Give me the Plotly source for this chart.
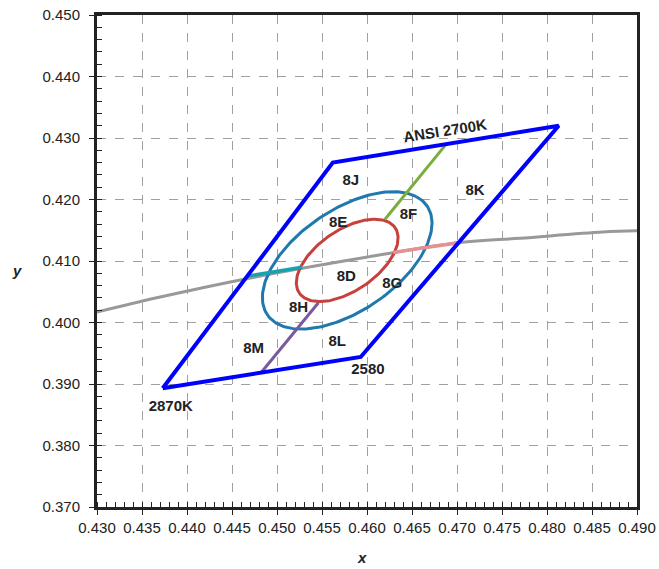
import numpy as np
import plotly.graph_objects as go

# ANSI 2700K quadrangle corners (closed)
quad_x = [0.4373, 0.4562, 0.4813, 0.4593, 0.4373]
quad_y = [0.3893, 0.4260, 0.4320, 0.3944, 0.3893]

# Planckian locus
locus_x = [0.4300, 0.4369, 0.4476, 0.4599, 0.4703, 0.4770, 0.4862, 0.4900]
locus_y = [0.4017, 0.4041, 0.4074, 0.4106, 0.4130, 0.4137, 0.4147, 0.4149]

# MacAdam ellipse parameters: center, semi-axes, angle (deg)
ell_center = (0.4578, 0.4101)
ell_inner = (0.00774, 0.00411)   # 3-step
ell_outer = (0.0129, 0.00685)    # 5-step
ell_angle = 53.7

# Dividing segments
seg_green_x = [0.4620, 0.4688]
seg_green_y = [0.4168, 0.4290]
seg_pink_x = [0.4629, 0.4704]
seg_pink_y = [0.4114, 0.4130]
seg_teal_x = [0.4466, 0.4528]
seg_teal_y = [0.4075, 0.4090]
seg_purple_x = [0.4546, 0.4482]
seg_purple_y = [0.4032, 0.3918]

# Labels
lab_text = ["8J", "8K", "8F", "8E", "8D", "8G", "8H", "8M", "8L", "2580", "2870K"]
lab_x = [0.4582, 0.4720, 0.4646, 0.4568, 0.4577, 0.4628, 0.4524, 0.4474, 0.4567, 0.4601, 0.4382]
lab_y = [0.4229, 0.4213, 0.4175, 0.4161, 0.4074, 0.4063, 0.4023, 0.3957, 0.3968, 0.3923, 0.3863]


def ellipse(center, axes, ang):
    t = np.linspace(0, 2 * np.pi, 200)
    a, b = axes
    th = np.radians(ang)
    ex = center[0] + a * np.cos(t) * np.cos(th) - b * np.sin(t) * np.sin(th)
    ey = center[1] + a * np.cos(t) * np.sin(th) + b * np.sin(t) * np.cos(th)
    return ex, ey


FONT = "Liberation Sans"
TXT = "#222222"

fig = go.Figure()
fig.add_trace(go.Scatter(x=locus_x, y=locus_y, mode="lines",
                         line=dict(color="#999999", width=3, shape="spline")))
ox, oy = ellipse(ell_center, ell_outer, ell_angle)
fig.add_trace(go.Scatter(x=ox, y=oy, mode="lines", line=dict(color="#1F78AE", width=3)))
ix, iy = ellipse(ell_center, ell_inner, ell_angle)
fig.add_trace(go.Scatter(x=ix, y=iy, mode="lines", line=dict(color="#C8403C", width=3)))
fig.add_trace(go.Scatter(x=seg_green_x, y=seg_green_y, mode="lines", line=dict(color="#7AAE3C", width=3)))
fig.add_trace(go.Scatter(x=seg_pink_x, y=seg_pink_y, mode="lines", line=dict(color="#E69092", width=3.5)))
fig.add_trace(go.Scatter(x=seg_teal_x, y=seg_teal_y, mode="lines", line=dict(color="#1AA0B0", width=3.5)))
fig.add_trace(go.Scatter(x=seg_purple_x, y=seg_purple_y, mode="lines", line=dict(color="#7A5A9E", width=3)))
fig.add_trace(go.Scatter(x=quad_x, y=quad_y, mode="lines", line=dict(color="#0000FF", width=4)))
fig.add_trace(go.Scatter(x=lab_x, y=lab_y, mode="text", text=lab_text,
                         textfont=dict(family=FONT, size=15, color=TXT, weight="bold")))

fig.add_annotation(x=0.4687, y=0.4312, text="ANSI 2700K", showarrow=False, textangle=-9,
                   font=dict(family=FONT, size=15, color=TXT, weight="bold"))

# figure fills the window (body margin removed in post_script)
W, H = 659, 569
PL, PR, PT, PB = 96.5, 637.5, 15, 507  # plot-area edges in page pixels
pw, ph = PR - PL, PB - PT

# axis titles
fig.add_annotation(x=(362 - PL) / pw, y=-(557 - PB) / ph, xref="paper", yref="paper",
                   xanchor="center", yanchor="middle",
                   text="<i>x</i>", showarrow=False,
                   font=dict(family=FONT, size=15, color=TXT, weight="bold"))
fig.add_annotation(x=-(PL - 16) / pw, y=(PB - 270) / ph, xref="paper", yref="paper",
                   xanchor="center", yanchor="middle",
                   text="<i>y</i>", showarrow=False,
                   font=dict(family=FONT, size=15, color=TXT, weight="bold"))

axis_common = dict(
    showline=True, linecolor=TXT, linewidth=3, mirror=True,
    showgrid=True, gridcolor="#A0A0A0", griddash="dash", gridwidth=1,
    ticks="outside", ticklen=5, tickcolor=TXT, tickwidth=1,
    tickfont=dict(family=FONT, size=15, color=TXT),
    zeroline=False, automargin=False, ticklabeloverflow="allow",
)

fig.update_xaxes(range=[0.430, 0.490], dtick=0.005, tickformat=".3f",
                 minor=dict(ticks="inside", ticklen=5, dtick=0.001, tickcolor=TXT, showgrid=False),
                 **axis_common)
fig.update_yaxes(range=[0.370, 0.450], dtick=0.010, tickformat=".3f",
                 minor=dict(ticks="inside", ticklen=5, dtick=0.002, tickcolor=TXT, showgrid=False),
                 ticklabelstandoff=6,
                 **axis_common)

fig.update_layout(
    width=W, height=H,
    margin=dict(l=PL, r=W - PR, t=PT, b=H - PB),
    plot_bgcolor="white", paper_bgcolor="white",
    showlegend=False,
)

fig.write_html("out.html", config={"displayModeBar": False},
               post_script="document.body.style.margin='0';document.body.style.overflow='hidden';")
